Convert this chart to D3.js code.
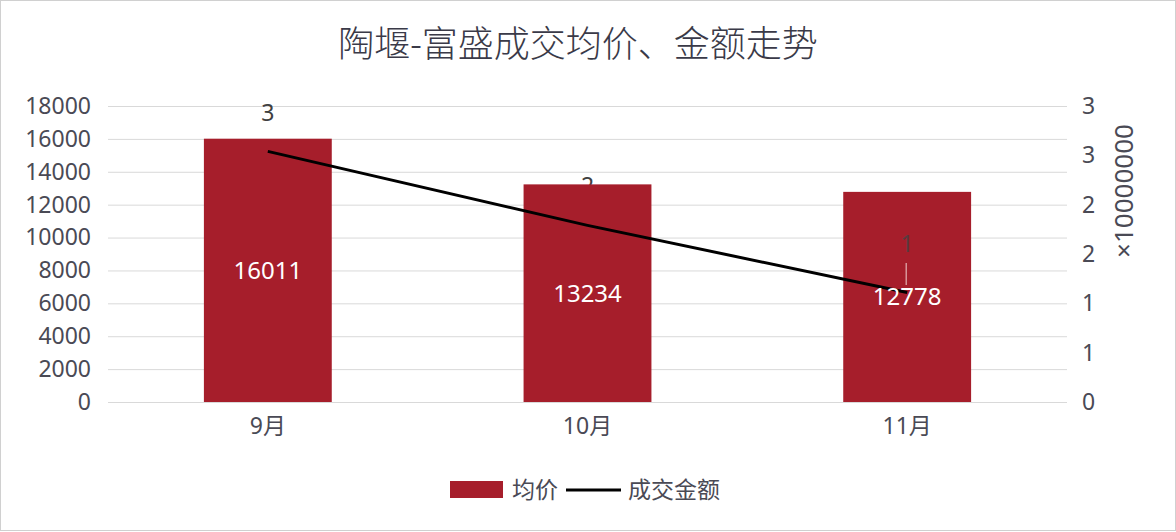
<!DOCTYPE html>
<html>
<head>
<meta charset="utf-8">
<script src="https://cdn.jsdelivr.net/npm/d3@7"></script>
<style>
body { margin: 0; background: #fff; }
text { font-family: "Noto Sans", "Noto Sans CJK SC", sans-serif; }
</style>
</head>
<body>
<div id="chart"></div>
<script>
// 数据
var months = ["9月", "10月", "11月"];
var avgPrice = [16011, 13234, 12778];          // 均价
var dealAmount = [25400000, 17900000, 11100000]; // 成交金额
var leftTicks = [0, 2000, 4000, 6000, 8000, 10000, 12000, 14000, 16000, 18000];
var rightTicks = [0, 0.5, 1, 1.5, 2, 2.5, 3];

var width = 1176, height = 532;
// 绘图区 (不能用 top 作变量名, 会和 window.top 冲突)
var plotL = 108, plotR = 1067, plotT = 106, plotB = 402;

var svg = d3.select("#chart").append("svg")
    .attr("width", width)
    .attr("height", height);

// 外框
svg.append("rect")
    .attr("x", 0.5).attr("y", 0.5)
    .attr("width", width - 1).attr("height", height - 2)
    .attr("fill", "#fff")
    .attr("stroke", "#d0d0d0");

// 比例尺
var x = d3.scaleBand()
    .domain(months)
    .range([plotL, plotR])
    .paddingInner(0.6)
    .paddingOuter(0.3);
var yL = d3.scaleLinear().domain([0, 18000]).range([plotB, plotT]);
var yR = d3.scaleLinear().domain([0, 3]).range([plotB, plotT]);

// 标题
svg.append("text")
    .attr("x", 578).attr("y", 57)
    .attr("text-anchor", "middle")
    .attr("font-size", "36px")
    .attr("font-weight", 300)
    .attr("fill", "#3a3a48")
    .text("陶堰-富盛成交均价、金额走势");

// 网格线
svg.append("g").selectAll("line")
    .data(leftTicks)
    .enter().append("line")
    .attr("x1", plotL).attr("x2", plotR)
    .attr("y1", function(d) { return yL(d) + 0.5; })
    .attr("y2", function(d) { return yL(d) + 0.5; })
    .attr("stroke", "#d9d9d9")
    .attr("stroke-width", 1);

// 左轴
var axisL = svg.append("g")
    .attr("transform", "translate(" + (plotL - 17) + ",0)")
    .call(d3.axisLeft(yL).tickValues(leftTicks).tickSize(0).tickPadding(0)
        .tickFormat(function(d) { return d; }));
axisL.select(".domain").remove();
axisL.selectAll("text")
    .attr("font-size", "23px")
    .attr("font-family", null)
    .attr("fill", "#4a4a55");

// 右轴
var axisR = svg.append("g")
    .attr("transform", "translate(" + (plotR + 15) + ",0)")
    .call(d3.axisRight(yR).tickValues(rightTicks).tickSize(0).tickPadding(0)
        .tickFormat(function(d) { return Math.round(d); }));
axisR.select(".domain").remove();
axisR.selectAll("text")
    .attr("font-size", "23px")
    .attr("font-family", null)
    .attr("fill", "#4a4a55");

svg.append("text")
    .attr("transform", "translate(1133,191) rotate(-90)")
    .attr("text-anchor", "middle")
    .attr("font-size", "26px")
    .attr("fill", "#4a4a55")
    .text("×10000000");

// X轴标签
var axisX = svg.append("g")
    .attr("transform", "translate(0," + (plotB + 11) + ")")
    .call(d3.axisBottom(x).tickSize(0).tickPadding(0));
axisX.select(".domain").remove();
axisX.selectAll("text")
    .attr("dy", "0.9em")
    .attr("font-size", "23px")
    .attr("font-family", null)
    .attr("fill", "#4a4a55");

// 折线标签 (部分被柱子遮挡)
var amountLabelY = [113, 186, 244];
svg.append("g").selectAll("text")
    .data(dealAmount)
    .enter().append("text")
    .attr("x", function(d, i) { return x(months[i]) + x.bandwidth() / 2; })
    .attr("y", function(d, i) { return amountLabelY[i]; })
    .attr("dy", "0.35em")
    .attr("text-anchor", "middle")
    .attr("font-size", "23px")
    .attr("fill", "#404040")
    .text(function(d) { return Math.round(d / 1e7); });

// 柱子
svg.append("g").selectAll("rect")
    .data(avgPrice)
    .enter().append("rect")
    .attr("x", function(d, i) { return x(months[i]); })
    .attr("y", function(d) { return yL(d); })
    .attr("width", x.bandwidth())
    .attr("height", function(d) { return plotB - yL(d); })
    .attr("fill", "#A61E2B");

// 11月标签显示在柱子上
svg.append("text")
    .attr("x", x(months[2]) + x.bandwidth() / 2)
    .attr("y", amountLabelY[2])
    .attr("dy", "0.35em")
    .attr("text-anchor", "middle")
    .attr("font-size", "23px")
    .attr("fill", "#5a3a3e")
    .text(Math.round(dealAmount[2] / 1e7));
svg.append("line")
    .attr("x1", x(months[2]) + x.bandwidth() / 2 - 1)
    .attr("x2", x(months[2]) + x.bandwidth() / 2 - 1)
    .attr("y1", 263).attr("y2", 285)
    .attr("stroke", "#f0d0d0")
    .attr("stroke-width", 1);

// 折线
var line = d3.line()
    .x(function(d, i) { return x(months[i]) + x.bandwidth() / 2; })
    .y(function(d) { return yR(d / 1e7); });
svg.append("path")
    .datum(dealAmount)
    .attr("d", line)
    .attr("fill", "none")
    .attr("stroke", "#000")
    .attr("stroke-width", 3);

// 柱子数值
svg.append("g").selectAll("text")
    .data(avgPrice)
    .enter().append("text")
    .attr("x", function(d, i) { return x(months[i]) + x.bandwidth() / 2; })
    .attr("y", function(d) { return (yL(d) + plotB) / 2; })
    .attr("dy", "0.35em")
    .attr("text-anchor", "middle")
    .attr("font-size", "24px")
    .attr("fill", "#fff")
    .text(function(d) { return d; });

// 图例
var lg = svg.append("g").attr("transform", "translate(450,490)");
lg.append("rect")
    .attr("x", 0).attr("y", -9)
    .attr("width", 53).attr("height", 17)
    .attr("fill", "#A61E2B");
lg.append("text")
    .attr("x", 62).attr("y", 0)
    .attr("dy", "0.35em")
    .attr("font-size", "23px")
    .attr("fill", "#4a4a55")
    .text("均价");
lg.append("line")
    .attr("x1", 116).attr("x2", 171)
    .attr("y1", 0).attr("y2", 0)
    .attr("stroke", "#000")
    .attr("stroke-width", 3);
lg.append("text")
    .attr("x", 178).attr("y", 0)
    .attr("dy", "0.35em")
    .attr("font-size", "23px")
    .attr("fill", "#4a4a55")
    .text("成交金额");
</script>
</body>
</html>
